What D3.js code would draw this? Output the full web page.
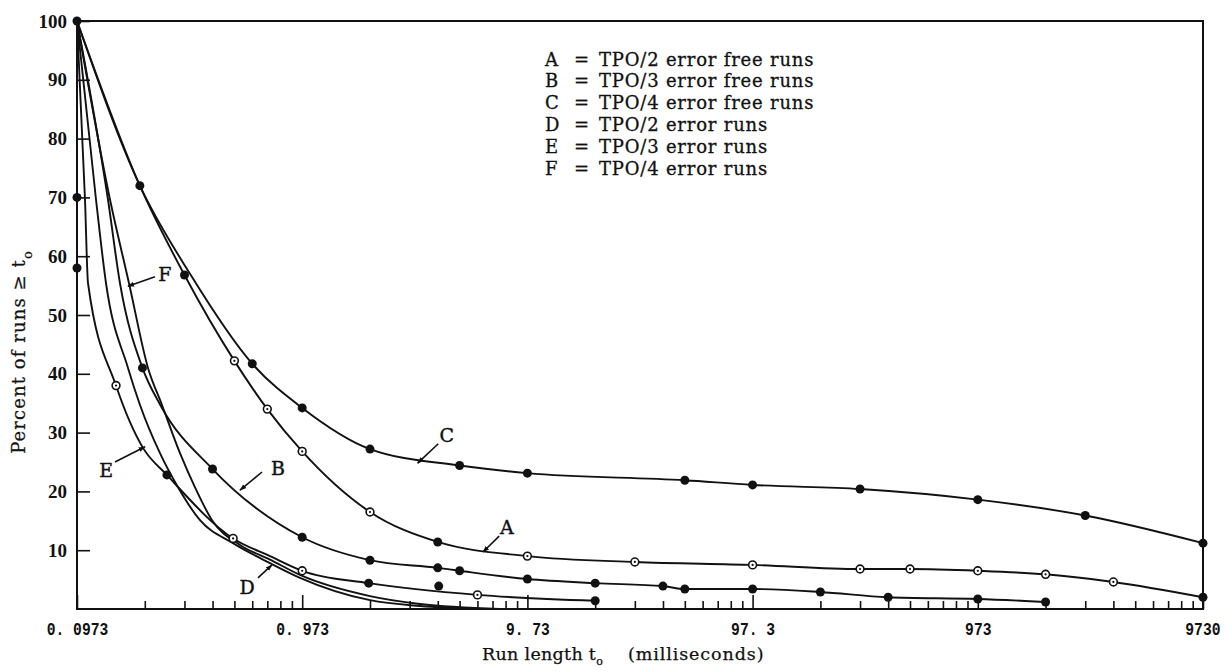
<!DOCTYPE html>
<html>
<head>
<meta charset="utf-8">
<script src="https://cdn.jsdelivr.net/npm/d3@7"></script>
<style>
  html, body { margin: 0; padding: 0; background: #fff; }
  svg { display: block; }
</style>
</head>
<body>
<svg id="chart" width="1229" height="672"></svg>
<script>
// ---- axis ticks ----
const xTickValues = [0.0973, 0.973, 9.73, 97.3, 973, 9730];
const xTickLabels = ["0. 0973", "0. 973", "9. 73", "97. 3", "973", "9730"];
const yTickValues = [10, 20, 30, 40, 50, 60, 70, 80, 90, 100];
const yTickLabels = ["10", "20", "30", "40", "50", "60", "70", "80", "90", "100"];

// ---- legend ----
const legendKeys = ["A", "B", "C", "D", "E", "F"];
const legendTexts = [
  "TPO/2 error free runs",
  "TPO/3 error free runs",
  "TPO/4 error free runs",
  "TPO/2 error runs",
  "TPO/3 error runs",
  "TPO/4 error runs"
];

// ---- curves: run length t (ms), percent of runs >= t, marker ("f" dot, "o" circle, "" none) ----
const tA = [0.0973, 0.185, 0.292, 0.4865, 0.681, 0.973, 1.946, 3.89, 9.73, 29.19, 97.3, 291.9, 486.5, 973, 1946, 3892, 9730];
const pA = [100, 72, 56.8, 42.2, 34.0, 26.8, 16.5, 11.4, 9.0, 8.0, 7.5, 6.8, 6.8, 6.5, 5.9, 4.6, 2.0];
const mA = ["", "", "f", "o", "o", "o", "o", "f", "o", "o", "o", "o", "o", "o", "o", "o", "f"];

const tB = [0.0973, 0.1336, 0.151, 0.19, 0.228, 0.389, 0.973, 1.946, 3.89, 4.865, 9.73, 19.46, 38.9, 48.65, 97.3, 194.6, 389, 973, 1946];
const pB = [100, 69.6, 55.4, 41.0, 34.7, 23.8, 12.2, 8.3, 7.0, 6.5, 5.1, 4.4, 3.9, 3.4, 3.4, 2.9, 2.0, 1.7, 1.2];
const mB = ["", "", "", "f", "", "f", "f", "f", "f", "f", "f", "f", "f", "f", "f", "f", "f", "f", "f"];

const tC = [0.0973, 0.185, 0.309, 0.584, 0.973, 1.946, 4.865, 9.73, 48.65, 97.3, 291.9, 973, 2919, 9730];
const pC = [100, 72, 57, 41.7, 34.2, 27.2, 24.4, 23.1, 21.9, 21.1, 20.4, 18.6, 15.9, 11.2];
const mC = ["f", "f", "", "f", "f", "f", "f", "f", "f", "f", "f", "f", "f", "f"];

const tD = [0.0973, 0.1182, 0.1309, 0.1639, 0.1853, 0.2273, 0.2733, 0.3422, 0.4795, 0.70, 0.951, 1.946, 3.246, 5.99];
const pD = [100, 69.6, 55.4, 41.0, 34.7, 26.5, 20.7, 15.1, 11.2, 7.8, 5.3, 1.5, 0.5, 0];
const mD = ["", "", "", "", "", "", "", "", "", "", "", "", "", ""];

const tE = [0.0973, 0.1056, 0.1089, 0.145, 0.191, 0.244, 0.48, 0.70, 0.973, 1.92, 5.84, 19.46];
const pE = [100, 69.6, 55.4, 38, 27.4, 22.8, 12.0, 9.0, 6.5, 4.4, 2.4, 1.4];
const mE = ["", "", "", "o", "", "f", "o", "", "o", "f", "o", "f"];

const tF = [0.0973, 0.1364, 0.1656, 0.2011, 0.232, 0.2789, 0.3252, 0.387, 0.5152, 0.70, 0.951, 1.946, 3.246, 7.35];
const pF = [100, 69.6, 55.4, 41.0, 34.7, 26.5, 20.7, 15.1, 10.9, 8.4, 5.8, 2.2, 0.85, 0];
const mF = ["", "", "", "", "", "", "", "", "", "", "", "", "", ""];

// single plotted observations not on a drawn curve
const tLoose = [0.0973, 0.0973, 3.93];
const pLoose = [70, 58, 3.9];
const mLoose = ["f", "f", "f"];

// ---- curve call-outs: letter position, arrow tail, arrow tip (data coordinates) ----
const calloutKeys = ["C", "A", "B", "D", "E", "F"];
const calloutLabelT = [4.27, 7.88, 0.76, 0.554, 0.131, 0.239];
const calloutLabelP = [29.6, 13.9, 24.0, 3.7, 23.6, 57.0];
const calloutTailT = [3.91, 7.29, 0.645, 0.619, 0.1435, 0.216];
const calloutTailP = [28.1, 12.4, 23.3, 5.3, 25.0, 56.5];
const calloutTipT = [3.17, 6.18, 0.515, 0.714, 0.195, 0.1638];
const calloutTipP = [24.8, 9.7, 20.2, 7.5, 27.6, 54.9];

// ---- drawing ----
const svg = d3.select("#chart");
const plot = { left: 77, right: 1203, top: 21, bottom: 609 };
const ink = "#111";
const serif = "'DejaVu Serif', serif";

const x = d3.scaleLog().domain([0.0973, 9730]).range([plot.left, plot.right]);
const y = d3.scaleLinear().domain([0, 100]).range([plot.bottom, plot.top]);

const defs = svg.append("defs");
defs.append("marker")
  .attr("id", "arrowhead")
  .attr("viewBox", "0 0 10 10")
  .attr("refX", 9).attr("refY", 5)
  .attr("markerWidth", 7).attr("markerHeight", 7)
  .attr("markerUnits", "userSpaceOnUse")
  .attr("orient", "auto")
  .append("path").attr("d", "M0,1.5L10,5L0,8.5Z").attr("fill", ink);

// minor log ticks (2..9 within each decade)
const minorTicks = [];
xTickValues.slice(0, -1).forEach(b => { for (let m = 2; m <= 9; m++) minorTicks.push(b * m); });

const gMinor = svg.append("g")
  .attr("transform", `translate(0,${plot.bottom})`)
  .call(d3.axisBottom(x).tickValues(minorTicks).tickSizeInner(-8).tickSizeOuter(0).tickFormat(""));
gMinor.select(".domain").remove();

const gX = svg.append("g")
  .attr("transform", `translate(0,${plot.bottom})`)
  .call(d3.axisBottom(x).tickValues(xTickValues).tickSizeInner(-14).tickSizeOuter(0).tickPadding(13)
    .tickFormat((d, i) => xTickLabels[i]));
gX.select(".domain").remove();
gX.selectAll("text")
  .attr("font-family", "'Liberation Mono', 'DejaVu Sans Mono', monospace")
  .attr("font-weight", "bold")
  .attr("font-size", 18)
  .attr("fill", ink)
  .attr("textLength", (d, i) => xTickLabels[i].length * 8.8)
  .attr("lengthAdjust", "spacingAndGlyphs");
// last label kept inside the page at the right frame edge
gX.selectAll("text").filter((d, i) => i === xTickLabels.length - 1)
  .attr("text-anchor", "end").attr("x", 1220 - plot.right);

const gY = svg.append("g")
  .attr("transform", `translate(${plot.left},0)`)
  .call(d3.axisLeft(y).tickValues(yTickValues).tickSizeInner(-13).tickSizeOuter(0).tickPadding(10)
    .tickFormat((d, i) => yTickLabels[i]));
gY.select(".domain").remove();
gY.selectAll("text")
  .attr("font-family", "'Liberation Serif', serif")
  .attr("font-weight", "bold")
  .attr("font-size", 19)
  .attr("fill", ink);

svg.selectAll(".tick line").attr("stroke", ink).attr("stroke-width", 1.6);

// frame
svg.append("rect")
  .attr("x", plot.left).attr("y", plot.top)
  .attr("width", plot.right - plot.left).attr("height", plot.bottom - plot.top)
  .attr("fill", "none").attr("stroke", ink).attr("stroke-width", 2);

// curves
const series = [
  { t: tA, p: pA, m: mA },
  { t: tB, p: pB, m: mB },
  { t: tC, p: pC, m: mC },
  { t: tD, p: pD, m: mD },
  { t: tE, p: pE, m: mE },
  { t: tF, p: pF, m: mF }
];

const line = d3.line()
  .x(d => x(d.t))
  .y(d => y(d.p))
  .curve(d3.curveMonotoneX);

const gCurves = svg.append("g");
series.forEach(s => {
  const pts = s.t.map((t, i) => ({ t, p: s.p[i], m: s.m[i] }));
  gCurves.append("path")
    .attr("d", line(pts))
    .attr("fill", "none")
    .attr("stroke", ink)
    .attr("stroke-width", 1.9);
});

function drawMarks(pts) {
  pts.filter(d => d.m === "f").forEach(d => {
    gCurves.append("circle").attr("cx", x(d.t)).attr("cy", y(d.p)).attr("r", 4.5).attr("fill", ink);
  });
  pts.filter(d => d.m === "o").forEach(d => {
    gCurves.append("circle").attr("cx", x(d.t)).attr("cy", y(d.p)).attr("r", 3.9)
      .attr("fill", "#fff").attr("stroke", ink).attr("stroke-width", 1.6);
    gCurves.append("circle").attr("cx", x(d.t)).attr("cy", y(d.p)).attr("r", 1.1).attr("fill", ink);
  });
}
series.forEach(s => drawMarks(s.t.map((t, i) => ({ t, p: s.p[i], m: s.m[i] }))));
drawMarks(tLoose.map((t, i) => ({ t, p: pLoose[i], m: mLoose[i] })));

// call-out letters with arrows
const gCall = svg.append("g");
calloutKeys.forEach((k, i) => {
  gCall.append("line")
    .attr("x1", x(calloutTailT[i])).attr("y1", y(calloutTailP[i]))
    .attr("x2", x(calloutTipT[i])).attr("y2", y(calloutTipP[i]))
    .attr("stroke", ink).attr("stroke-width", 1.6)
    .attr("marker-end", "url(#arrowhead)");
  gCall.append("text")
    .attr("x", x(calloutLabelT[i])).attr("y", y(calloutLabelP[i]))
    .attr("text-anchor", "middle")
    .attr("dominant-baseline", "central")
    .attr("font-family", serif)
    .attr("font-size", 19)
    .attr("fill", ink)
    .attr("stroke", ink).attr("stroke-width", 0.4)
    .text(k);
});

// legend
const gLeg = svg.append("g")
  .attr("font-family", serif)
  .attr("font-size", 18)
  .attr("letter-spacing", 0.8)
  .attr("fill", ink)
  .attr("stroke", ink)
  .attr("stroke-width", 0.3);
legendKeys.forEach((k, i) => {
  const by = 65.5 + i * 21.9;
  gLeg.append("text").attr("x", 545).attr("y", by).text(k);
  gLeg.append("text").attr("x", 574).attr("y", by).text("=");
  gLeg.append("text").attr("x", 599).attr("y", by).text(legendTexts[i]);
});

// axis titles
const xTitle = svg.append("text")
  .attr("x", 482).attr("y", 660)
  .attr("font-family", serif)
  .attr("font-size", 17.5)
  .attr("letter-spacing", 0.3)
  .attr("fill", ink)
  .attr("stroke", ink).attr("stroke-width", 0.25);
xTitle.append("tspan").text("Run length t");
xTitle.append("tspan").attr("dy", 5).attr("font-size", 11).text("o");
xTitle.append("tspan").attr("x", 628).attr("dy", -5).attr("letter-spacing", 0.9).text("(milliseconds)");

const yTitle = svg.append("text")
  .attr("transform", "translate(25,352) rotate(-90)")
  .attr("text-anchor", "middle")
  .attr("font-family", serif)
  .attr("font-size", 18)
  .attr("letter-spacing", 1.1)
  .attr("fill", ink)
  .attr("stroke", ink).attr("stroke-width", 0.25);
yTitle.append("tspan").text("Percent of runs \u2265 t");
yTitle.append("tspan").attr("dy", 7).attr("font-size", 13).text("o");
</script>
</body>
</html>
